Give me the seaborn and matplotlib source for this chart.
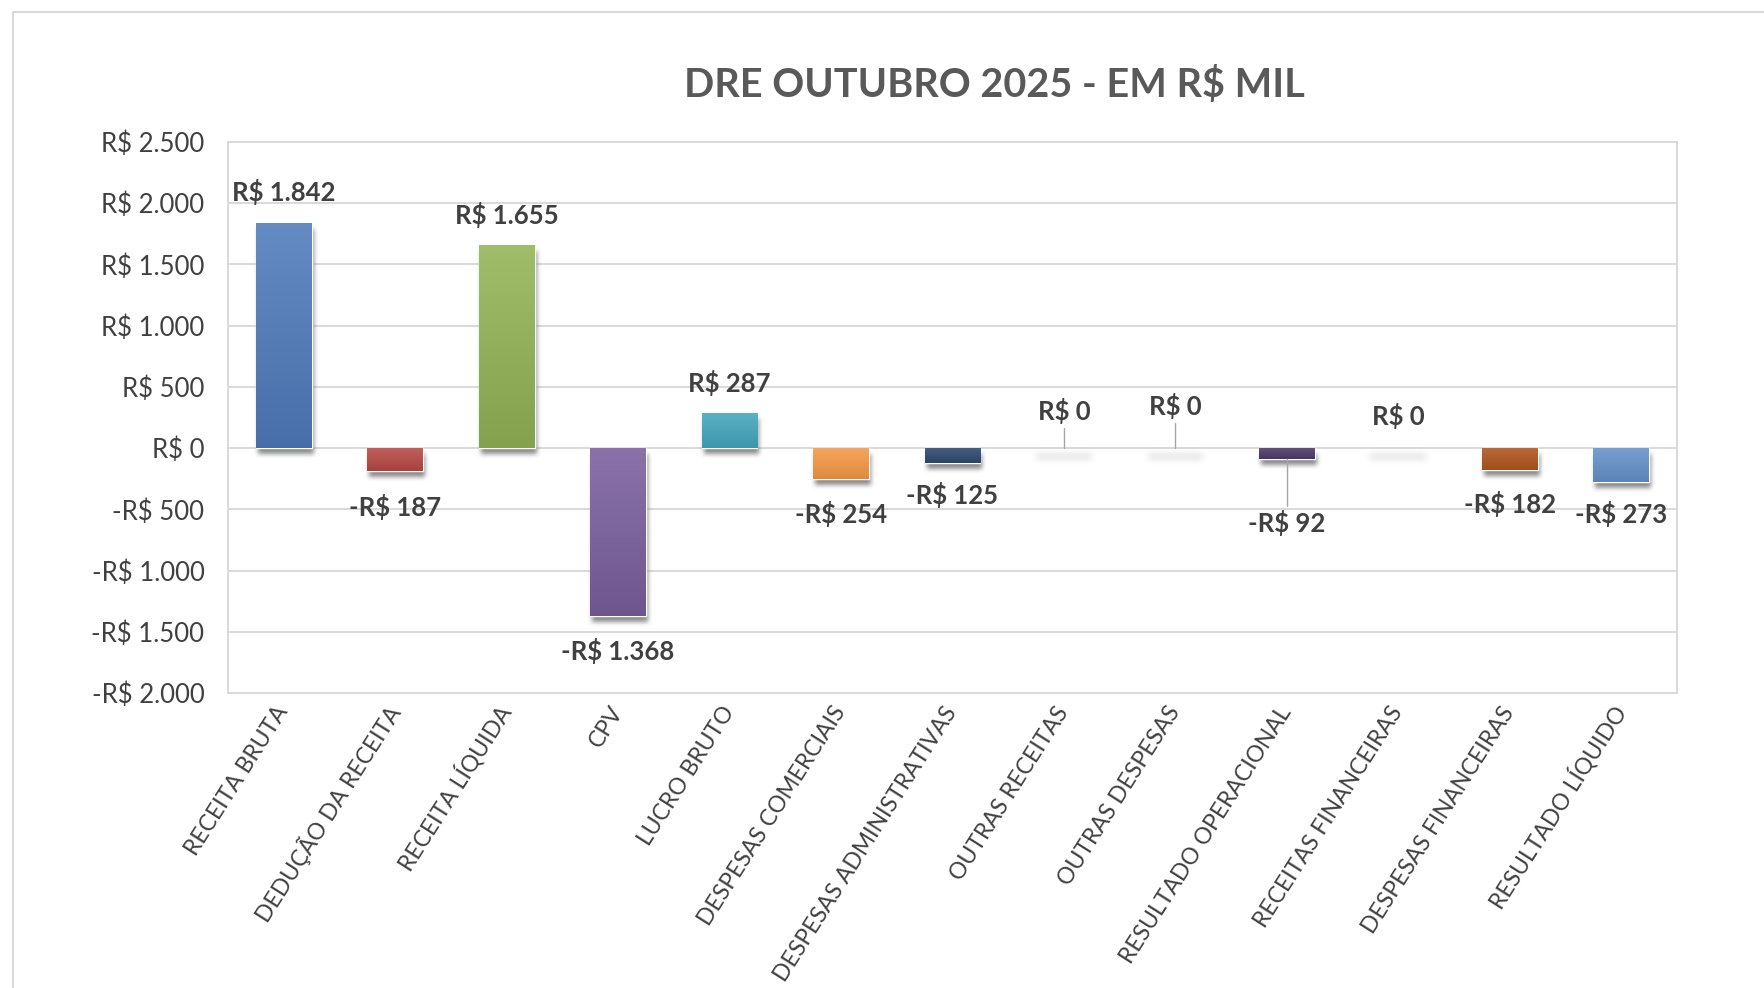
import numpy as np
import pandas as pd
import matplotlib
matplotlib.use("Agg")
import matplotlib.pyplot as plt
import seaborn as sns
from matplotlib.patches import Rectangle
from matplotlib.colors import to_rgb
from matplotlib.ticker import FuncFormatter

# ---------------- data ----------------
categories = ["RECEITA BRUTA", "DEDUÇÃO DA RECEITA", "RECEITA LÍQUIDA", "CPV",
              "LUCRO BRUTO", "DESPESAS COMERCIAIS", "DESPESAS ADMINISTRATIVAS",
              "OUTRAS RECEITAS", "OUTRAS DESPESAS", "RESULTADO OPERACIONAL",
              "RECEITAS FINANCEIRAS", "DESPESAS FINANCEIRAS", "RESULTADO LÍQUIDO"]
values = [1842, -187, 1655, -1368, 287, -254, -125, 0, 0, -92, 0, -182, -273]
y_ticks = [2500, 2000, 1500, 1000, 500, 0, -500, -1000, -1500, -2000]
title_text = "DRE OUTUBRO 2025 - EM R$ MIL"

# ---------------- style ----------------
bar_colors = ["#4f7bbb", "#b84a45", "#93b456", "#7a5f9e", "#45a7bf", "#f59a46",
              "#2f4b70", "#d9d9d9", "#d9d9d9", "#4e3b6b", "#d9d9d9", "#b2561d", "#6592cb"]
label_dy = [250, -290, 250, -290, 245, -285, -258, 300, 342, -519, 261, -274, -264]
leader = [False, False, False, False, False, False, False, True, True, True, False, False, False]

FONT = ["Lato", "DejaVu Sans"]
TXT = "#404040"
GRID = "#d9d9d9"


def fmt_brl(v):
    s = f"{abs(int(round(v))):,}".replace(",", ".")
    return ("-R$ " if v < 0 else "R$ ") + s


# --- blur filter for drop shadows (agg_filter) ---
def smooth1d(x, window_len):
    s = np.r_[2 * x[0] - x[window_len:1:-1], x, 2 * x[-1] - x[-1:-window_len:-1]]
    w = np.hanning(window_len)
    y = np.convolve(w / w.sum(), s, mode="same")
    return y[window_len - 1:-window_len + 1]


def smooth2d(A, sigma=3):
    window_len = max(int(sigma), 3) * 2 + 1
    A = np.apply_along_axis(smooth1d, 0, A, window_len)
    A = np.apply_along_axis(smooth1d, 1, A, window_len)
    return A


class DropShadow:
    def __init__(self, sigma, alpha, color, ox, oy, pad):
        self.sigma, self.alpha, self.color = sigma, alpha, color
        self.ox, self.oy, self.pad = ox, oy, pad

    def __call__(self, im, dpi):
        pad = self.pad
        ny, nx, d = im.shape
        src = np.zeros([ny + 2 * pad, nx + 2 * pad, d], dtype="d")
        src[pad:-pad, pad:-pad, :] = im
        tgt = np.empty_like(src)
        tgt[:, :, :3] = self.color
        tgt[:, :, 3] = np.clip(smooth2d(src[:, :, 3] * self.alpha, self.sigma), 0, 1)
        tgt = np.roll(tgt, self.ox, axis=1)
        tgt = np.roll(tgt, -self.oy, axis=0)
        return tgt, -pad, -pad


sns.set_theme(style="white")
plt.rcParams["font.family"] = FONT

fig = plt.figure(figsize=(17.65, 9.88), dpi=100)
ax = fig.add_axes([228 / 1765, 1 - 693 / 988, (1677 - 228) / 1765, (693 - 142) / 988])

df = pd.DataFrame({"cat": categories, "val": values})
sns.barplot(data=df, x="cat", y="val", hue="cat", palette=bar_colors,
            legend=False, width=0.5, ax=ax, saturation=1, zorder=3)

ax.set_ylim(-2000, 2500)
ax.set_xlim(-0.5, len(categories) - 0.5)
ax.set_yticks(y_ticks)
ax.yaxis.set_major_formatter(FuncFormatter(lambda v, p: fmt_brl(v)))
ax.grid(axis="y", color=GRID, linewidth=1.4, zorder=0)
ax.set_axisbelow(True)
for sp in ax.spines.values():
    sp.set_color(GRID)
    sp.set_linewidth(1.4)
ax.set_xlabel("")
ax.set_ylabel("")
ax.tick_params(axis="y", length=0, pad=17, labelsize=18.5, labelcolor=TXT)
ax.tick_params(axis="x", length=0, pad=11, labelsize=16.5, labelcolor=TXT)
for lab in ax.get_xticklabels():
    lab.set_rotation(57.5)
    lab.set_rotation_mode("anchor")
    lab.set_ha("right")
    lab.set_va("center")

# gradients + shadows
bars = list(ax.patches)[:len(values)]
for bar, v, col in zip(bars, values, bar_colors):
    x0, w = bar.get_x(), bar.get_width()
    y0, h = bar.get_y(), bar.get_height()
    if abs(h) > 1e-9:
        sh = Rectangle((x0, y0), w, h, facecolor="black", edgecolor="none",
                       transform=ax.transData, zorder=2.5)
        sh.set_agg_filter(DropShadow(sigma=6, alpha=0.9, color=(0.5, 0.5, 0.5),
                                     ox=2, oy=-6, pad=24))
    else:
        sh = Rectangle((x0, y0 - 40), w, 0, facecolor="black", edgecolor="none",
                       transform=ax.transData, zorder=2.5)
        sh.set_height(-60)
        sh.set_agg_filter(DropShadow(sigma=8, alpha=0.18, color=(0.5, 0.5, 0.5),
                                     ox=0, oy=0, pad=24))
    ax.add_patch(sh)
    if abs(h) < 1e-9:
        bar.set_visible(False)
        continue
    base = np.array(to_rgb(col))
    top = base + (1 - base) * 0.12
    bot = base * 0.9
    t = np.linspace(0, 1, 64)[:, None]
    grad = (top[None, :] * (1 - t) + bot[None, :] * t)[:, None, :]
    ylo, yhi = min(y0, y0 + h), max(y0, y0 + h)
    im = ax.imshow(grad, extent=[x0, x0 + w, ylo, yhi], origin="upper",
                   aspect="auto", zorder=3.5, interpolation="bilinear")
    im.set_clip_path(bar)

ax.set_xlim(-0.5, len(categories) - 0.5)
ax.set_ylim(-2000, 2500)

# data labels
for i, (v, dy, ld) in enumerate(zip(values, label_dy, leader)):
    ly = v + dy
    ax.text(i, ly, fmt_brl(v), ha="center", va="center", fontsize=18.5,
            fontweight="bold", color=TXT, zorder=6)
    if ld:
        gap = 135
        end = ly - gap if dy > 0 else ly + gap
        ax.plot([i, i], [v, end], color="#a6a6a6", linewidth=1.0, zorder=5)

# title
fig.text(994 / 1765, 1 - 85 / 988, title_text, ha="center", va="center",
         fontsize=28.5, fontweight="bold", color="#595959")

# outer chart frame
frame = Rectangle((13 / 1765, -0.05), 1.2, 1 - 12 / 988 + 0.05, transform=fig.transFigure,
                  fill=False, edgecolor="#d9d9d9", linewidth=1.5)
fig.patches.append(frame)

fig.savefig("out.png", dpi=100)
